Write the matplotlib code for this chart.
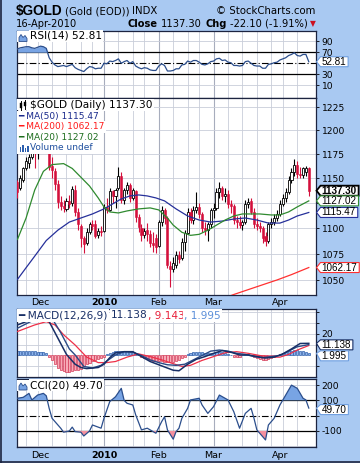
import numpy as np
import pandas as pd
import matplotlib
matplotlib.use("Agg")
import matplotlib.pyplot as plt
from matplotlib.patches import Polygon, Rectangle
from matplotlib.transforms import IdentityTransform
from matplotlib.ticker import NullLocator

# ---------------- data ----------------
holidays = ["2009-11-26", "2009-12-25", "2010-01-01", "2010-01-18", "2010-02-15", "2010-04-02"]
dates = pd.bdate_range("2009-11-18", "2010-04-16")
dates = dates[~dates.isin(pd.to_datetime(holidays))]

opens = [1146, 1140, 1148, 1160, 1166, 1172, 1185, 1176, 1182, 1200,
         1214, 1206, 1163, 1157, 1144, 1126, 1122, 1119, 1127, 1125,
         1138, 1116, 1102, 1090, 1086, 1096, 1104, 1104, 1093, 1097,
         1097, 1121, 1118, 1137, 1132, 1140, 1152, 1128, 1138, 1143,
         1130, 1137, 1111, 1100, 1093, 1098, 1094, 1086, 1090, 1083,
         1106, 1118, 1110, 1064, 1061, 1065, 1074, 1071, 1087, 1095,
         1116, 1108, 1118, 1121, 1114, 1100, 1098, 1104, 1118, 1120,
         1136, 1140, 1132, 1134, 1124, 1122, 1108, 1106, 1103, 1106,
         1124, 1127, 1116, 1104, 1102, 1100, 1092, 1088, 1104, 1106,
         1110, 1114, 1124, 1130, 1136, 1148, 1156, 1164, 1154, 1153,
         1156, 1160]
highs = [1148, 1153, 1162, 1172, 1175, 1195, 1192, 1185, 1203, 1218,
         1227, 1218, 1172, 1160, 1148, 1132, 1128, 1130, 1133, 1142,
         1143, 1120, 1104, 1092, 1100, 1106, 1108, 1108, 1100, 1102,
         1124, 1130, 1140, 1138, 1140, 1162, 1156, 1140, 1146, 1145,
         1140, 1138, 1114, 1104, 1100, 1105, 1098, 1096, 1094, 1108,
         1122, 1120, 1112, 1068, 1072, 1078, 1078, 1090, 1098, 1120,
         1120, 1122, 1136, 1125, 1116, 1106, 1106, 1120, 1125, 1140,
         1146, 1142, 1140, 1138, 1128, 1124, 1112, 1112, 1108, 1128,
         1130, 1130, 1120, 1110, 1106, 1102, 1096, 1106, 1110, 1114,
         1118, 1128, 1134, 1140, 1152, 1160, 1170, 1168, 1162, 1162,
         1163, 1162]
lows = [1130, 1138, 1146, 1158, 1160, 1170, 1160, 1170, 1180, 1196,
        1200, 1158, 1150, 1138, 1120, 1118, 1116, 1117, 1120, 1122,
        1112, 1098, 1082, 1076, 1084, 1094, 1098, 1090, 1090, 1092,
        1096, 1115, 1117, 1125, 1120, 1138, 1125, 1124, 1134, 1126,
        1128, 1106, 1096, 1088, 1090, 1088, 1082, 1077, 1076, 1082,
        1102, 1104, 1062, 1044, 1058, 1062, 1066, 1069, 1078, 1094,
        1105, 1104, 1115, 1110, 1096, 1093, 1088, 1100, 1110, 1118,
        1130, 1128, 1126, 1120, 1115, 1104, 1100, 1100, 1098, 1104,
        1120, 1114, 1100, 1098, 1096, 1086, 1083, 1086, 1100, 1103,
        1107, 1112, 1122, 1126, 1134, 1145, 1152, 1150, 1150, 1150,
        1152, 1132]
closes = [1136, 1150, 1160, 1168, 1172, 1190, 1178, 1181, 1200, 1214,
          1205, 1162, 1158, 1144, 1126, 1122, 1120, 1127, 1124, 1139,
          1116, 1104, 1090, 1085, 1096, 1104, 1102, 1092, 1097, 1096,
          1121, 1118, 1137, 1132, 1138, 1152, 1128, 1138, 1143, 1130,
          1138, 1111, 1101, 1093, 1097, 1094, 1086, 1084, 1082, 1106,
          1118, 1110, 1065, 1061, 1066, 1074, 1070, 1087, 1095, 1116,
          1108, 1118, 1121, 1114, 1100, 1098, 1104, 1118, 1120, 1136,
          1140, 1132, 1134, 1124, 1122, 1108, 1106, 1103, 1106, 1124,
          1126, 1116, 1104, 1102, 1100, 1090, 1088, 1104, 1106, 1110,
          1114, 1124, 1130, 1136, 1148, 1156, 1164, 1154, 1153, 1160,
          1160, 1137.3]

ma20_x = [0, 3, 6, 9, 12, 16, 19, 22, 25, 28, 30, 32, 35, 38, 42, 46, 49, 52, 54,
          57, 60, 63, 66, 69, 72, 75, 78, 81, 84, 88, 91, 94, 97, 101]
ma20_v = [1089, 1110, 1138, 1157, 1164, 1165, 1160, 1151, 1142, 1130, 1121, 1116, 1115,
          1117, 1119, 1120, 1118, 1110, 1103, 1096, 1093, 1094, 1098, 1103, 1108, 1112,
          1114, 1114, 1114, 1113, 1113, 1116, 1121, 1127.02]
ma50_x = [0, 3, 6, 10, 14, 18, 22, 26, 30, 33, 36, 39, 42, 45, 48, 51, 55, 59, 63, 67,
          71, 75, 79, 83, 87, 91, 94, 97, 101]
ma50_v = [1051, 1062, 1073, 1088, 1098, 1106, 1110, 1114, 1119, 1124, 1129, 1132, 1133,
          1132, 1130, 1127, 1119, 1112, 1108, 1106, 1107, 1109, 1110, 1108, 1105, 1105,
          1108, 1112, 1115.47]
ma200_x = [70, 75, 80, 85, 90, 95, 101]
ma200_v = [1032, 1037, 1041.5, 1046, 1050.5, 1055.5, 1062.17]

rsi_v = [76, 78, 79, 80, 80, 78, 77, 79, 81, 80,
         77, 60, 52, 47, 44, 45, 46, 44, 46, 48,
         42, 39, 37, 35, 40, 44, 43, 40, 41, 41,
         50, 49, 54, 53, 55, 58, 50, 53, 55, 50,
         53, 45, 42, 40, 42, 41, 38, 37, 37, 45,
         49, 46, 36, 36, 37, 40, 40, 47, 48, 54,
         52, 55, 55, 52, 48, 47, 49, 53, 54, 58,
         59, 55, 56, 52, 51, 46, 46, 45, 46, 53,
         54, 50, 46, 45, 45, 41, 41, 48, 49, 51,
         52, 56, 58, 60, 64, 66, 69, 64, 63, 66, 66, 52.81]

macd_x = [0, 3, 6, 9, 11, 14, 17, 20, 22, 24, 26, 28, 30, 32, 34, 37, 40, 43, 46, 49,
          51, 54, 56, 59, 62, 65, 68, 71, 74, 77, 80, 83, 86, 89, 92, 95, 98, 101]
macd_v = [28, 31, 35, 38, 31, 16, 1, -8, -11, -12, -11.5, -11, -8, -2, 2.5, 3.5, 3.5, -1,
          -5.5, -8.5, -10.5, -13.5, -14, -8, -3.5, -1, 2, 4.5, 3, 0.5, 0.5, -1, -2.3,
          -1.5, 1.5, 6, 11, 11.138]
macd2_x = [0, 3, 6, 9, 12, 15, 18, 20, 23, 26, 29, 31, 34, 37, 40, 43, 46, 49, 52, 55,
           58, 61, 64, 67, 70, 73, 76, 79, 82, 85, 88, 91, 94, 97, 101]
macd2_v = [25, 29, 33, 36, 34, 21, 6, 0.5, -10, -11.5, -9, -5, 0.5, 3.5, 3, 0, -4, -6.5,
           -8.5, -9, -8, -4, 0, 4, 5, 4, 2, 1, -1, -2, -1, 0, 4, 8, 10]
signal_x = [0, 3, 6, 10, 13, 16, 20, 24, 28, 31, 34, 38, 42, 46, 50, 54, 57, 60, 64, 68,
            72, 76, 80, 84, 88, 91, 94, 97, 101]
signal_v = [22, 25, 28, 31, 28, 19, 9.6, -1.5, -6.5, -6.5, -5.5, -1.5, 1.5, -1, -4, -7.5,
            -10, -9, -4.5, -1, 2.5, 3.5, 2, 0, -1.5, -1.5, 1, 5, 9.143]
hist_v = [4, 4, 4, 4, 4, 4, 4, 3.5, 3, 3, 2,
          -1, -4, -8, -11, -13, -14, -15, -15, -14, -13,
          -13, -12, -10, -8, -7, -5, -4, -3, -2, -1,
          1, 2, 3, 4, 4, 4, 4, 4, 3, 3,
          2, 1, -1, -2, -3, -4, -5, -5, -5, -5,
          -6, -6, -6, -6, -5, -4, -2, -1, 1, 2,
          3, 3, 3, 3, 2, 2, 2, 2, 3, 3,
          3, 2, 1, 0, -1, -1, -1, 0, 1, 1,
          0, -1, -2, -3, -4, -4, -3, -2, -1, 0,
          1, 2, 3, 4, 4, 5, 5, 4, 4, 3, 1.995]

cci_x = [0, 2, 4, 5, 7, 9, 10, 11, 12, 15, 16, 18, 19, 20, 22, 23, 25, 26, 29, 30, 32,
         34, 36, 37, 38, 40, 41, 43, 45, 47, 48, 50, 51, 52, 54, 55, 56, 57, 59, 60,
         63, 64, 66, 68, 70, 73, 75, 77, 79, 81, 82, 83, 86, 87, 89, 91, 93, 95, 97,
         99, 100, 101]
cci_v = [114, 120, 146, 103, 135, 146, 130, 48, -17, -82, -108, -100, -75, -104, -108,
         -133, -100, -61, -82, -17, 92, 124, 179, 100, 81, 70, 5, -93, -82, -104, -115,
         -39, -7, -93, -154, -104, -82, -17, 48, 103, 114, 70, 15, 59, 135, 103, 26, -82,
         15, 48, -17, -93, -159, -61, -17, 70, 135, 200, 179, 114, 103, 49.7]

month_labels = ["Dec", "2010", "Feb", "Mar", "Apr"]

# ---------------- styling ----------------
W, H = 360, 463
BG = "#a9c9f2"
GRID = "#c9cdd9"
MGRID = "#a7adbd"
RSI_LINE = "#2b4e8c"
FILL_UP = "#78a4e4"
FILL_DN = "#f4909e"
LEG = 7.6     # main legend lines
SUB = 6.5     # MA legend lines
TAG = 7.1

fig = plt.figure(figsize=(W / 100, H / 100), dpi=100, facecolor=BG)
R = fig.canvas.get_renderer()


def box(top, bottom):
    return [17 / W, 1 - bottom / H, 299 / W, (bottom - top) / H]


x = np.arange(len(closes))
XL = (-0.15, 103.5)
week_idx = [i for i in range(1, len(dates)) if dates[i].weekday() < dates[i - 1].weekday()]
month_idx = [i for i in range(1, len(dates)) if dates[i].month != dates[i - 1].month]


def style(ax, ylim, ticks, labels, hgrid, log=False):
    ax.set_facecolor("white")
    if log:
        ax.set_yscale("log")
    ax.set_xlim(XL)
    ax.set_ylim(ylim)
    for s in ax.spines.values():
        s.set_color("#1c2440")
        s.set_linewidth(0.9)
    ax.yaxis.tick_right()
    ax.set_yticks(ticks, labels=labels)
    ax.yaxis.set_minor_locator(NullLocator())
    ax.tick_params(axis="y", labelsize=6.6, length=2.5, pad=1.5, width=0.6)
    ax.set_xticks(month_idx, labels=month_labels)
    ax.tick_params(axis="x", length=0, labelbottom=False)
    for i in week_idx:
        mj = i in month_idx
        ax.axvline(i, color=MGRID if mj else GRID, lw=0.8 if mj else 0.6, zorder=0)
    for v in hgrid:
        ax.axhline(v, color=GRID, lw=0.6, zorder=0)


def rich(xp, yp, parts, size=LEG, box_on=True, zorder=5, family=None):
    for txt, col, wt, gap in parts:
        t = fig.text(xp / W, 1 - yp / H, txt, color=col, fontsize=size, fontweight=wt,
                     ha="left", va="center", zorder=zorder, family=family,
                     bbox=dict(fc="white", ec="none", pad=0.9) if box_on else None)
        xp += t.get_window_extent(R).width + gap
    return xp


def tag(ax, val, txt, ec, bold=False, dy=0.0, lw=0.8):
    yd = ax.transData.transform((0, val))[1]
    yt = yd + dy
    t = fig.text(321.5 / W, yt / H, txt, fontsize=TAG, fontweight="bold" if bold else "normal",
                 ha="left", va="center", zorder=7, family="Liberation Sans")
    w = t.get_window_extent(R).width
    x1 = min(321.5 + w + 2.0, 359.5)
    pts = [(316.5, yd), (320.5, yt + 5.0), (x1, yt + 5.0), (x1, yt - 5.0), (320.5, yt - 5.0)]
    fig.add_artist(Polygon(pts, closed=True, fc="white", ec=ec, lw=lw,
                           transform=IdentityTransform(), zorder=6))


def mountain(xp, yp, col):
    pts = [(xp, yp + 4), (xp, yp), (xp + 2, yp - 3), (xp + 4, yp), (xp + 6, yp - 2),
           (xp + 8, yp + 1), (xp + 8, yp + 4)]
    pts = [(a, H - b) for a, b in pts]
    fig.add_artist(Polygon(pts, closed=True, fc=FILL_UP, ec=col, lw=0.6,
                           transform=IdentityTransform(), zorder=6))


# ---------------- RSI ----------------
ax_r = fig.add_axes(box(30.7, 97.5))
style(ax_r, (-12, 109), [90, 70, 30, 10], ["90", "70", "30", "10"], [10, 90])
ax_r.axhline(70, color="black", lw=0.9, zorder=1)
ax_r.axhline(30, color="black", lw=0.9, zorder=1)
ax_r.axhline(50, color="black", lw=0.8, ls=(0, (6, 2, 1, 2)), zorder=1)
rsi = np.array(rsi_v)
ax_r.fill_between(x, rsi, 70, where=rsi > 70, interpolate=True, color=FILL_UP, lw=0, zorder=2)
ax_r.plot(x, rsi, color=RSI_LINE, lw=0.9, zorder=3)

# ---------------- price ----------------
ax_p = fig.add_axes(box(98, 294.5))
pt = [1050, 1075, 1100, 1125, 1150, 1175, 1200, 1225]
style(ax_p, (1037, 1235), pt, ["1050", "1075", "1100", "", "1150", "1175", "1200", "1225"],
      pt, log=True)
o, h, l, c = map(np.array, (opens, highs, lows, closes))
up = c >= o
RED = "#d4103c"
ax_p.vlines(x[up], l[up], h[up], color="black", lw=0.8, zorder=3)
ax_p.vlines(x[~up], l[~up], h[~up], color=RED, lw=0.8, zorder=3)
ax_p.bar(x[up], np.maximum(c - o, 0.6)[up], bottom=o[up], width=0.72, fc="white",
         ec="black", lw=0.6, zorder=4)
ax_p.bar(x[~up], (o - c)[~up], bottom=c[~up], width=0.72, fc=RED, ec=RED, lw=0.4, zorder=4)
ax_p.plot(ma50_x, ma50_v, color="#26309a", lw=0.9, zorder=5)
ax_p.plot(ma20_x, ma20_v, color="#2f8a2f", lw=0.9, zorder=5)
ax_p.plot(ma200_x, ma200_v, color="#ff3030", lw=0.9, zorder=5)
ax_p.tick_params(axis="x", labelbottom=True, labelsize=6.8, pad=2.5)
for lb in ax_p.get_xticklabels():
    if lb.get_text() == "2010":
        lb.set_fontweight("bold")

# ---------------- MACD ----------------
ax_m = fig.add_axes(box(309, 377))
style(ax_m, (-19.7, 42.6), [-10, 0, 10, 20, 30, 40], ["", "", "", "20", "", ""],
      [-10, 10, 20, 30, 40])
hv = np.array(hist_v)
pos = hv >= 0
ax_m.bar(x[pos], hv[pos], width=0.75, fc="#8db3ea", ec="#2d5eab", lw=0.5, zorder=2)
ax_m.bar(x[~pos], hv[~pos], width=0.75, fc="#f7a9b6", ec="#d23a58", lw=0.5, zorder=2)
ax_m.plot(signal_x, signal_v, color="#ee3048", lw=0.9, zorder=3)
ax_m.plot(macd2_x, macd2_v, color="#2a4a86", lw=1.0, zorder=4)
ax_m.plot(macd_x, macd_v, color="#182f66", lw=1.1, zorder=4)

# ---------------- CCI ----------------
ax_c = fig.add_axes(box(379, 447.3))
style(ax_c, (-207, 240), [200, 100, 0, -100], ["200", "100", "", "-100"], [200, -200])
ax_c.axhline(100, color="black", lw=0.9, zorder=1)
ax_c.axhline(-100, color="black", lw=0.9, zorder=1)
ax_c.axhline(0, color="black", lw=0.8, ls=(0, (6, 2, 1, 2)), zorder=1)
cx, cv = np.array(cci_x), np.array(cci_v)
ax_c.fill_between(cx, cv, 100, where=cv > 100, interpolate=True, color=FILL_UP, lw=0, zorder=2)
ax_c.fill_between(cx, cv, -100, where=cv < -100, interpolate=True, color=FILL_DN, lw=0, zorder=2)
ax_c.plot(cx, cv, color=RSI_LINE, lw=0.9, zorder=3)
ax_c.tick_params(axis="x", labelbottom=True, labelsize=6.8, pad=2.5)
for lb in ax_c.get_xticklabels():
    if lb.get_text() == "2010":
        lb.set_fontweight("bold")

# ---------------- header ----------------
fig.text(16 / W, 1 - 10.5 / H, "$GOLD", fontsize=9.8, fontweight="bold", va="center",
         family="Liberation Sans")
fig.text(65 / W, 1 - 11 / H, "(Gold (EOD))", fontsize=7.3, va="center")
fig.text(132 / W, 1 - 11 / H, "INDX", fontsize=7.3, va="center")
fig.text(315 / W, 1 - 11 / H, "\u00a9 StockCharts.com", fontsize=7.3, ha="right", va="center")
fig.text(16 / W, 1 - 24 / H, "16-Apr-2010", fontsize=7.1, va="center")
xe = rich(128, 24, [("Close", "black", "bold", 3), ("1137.30", "black", "normal", 4),
                    ("Chg", "black", "bold", 3), ("-22.10 (-1.91%)", "black", "normal", 2)],
          size=7.1, box_on=False)
fig.text(xe / W, 1 - 24 / H, "\u25bc", fontsize=5.5, color="#cc1020", va="center")

# ---------------- panel legends ----------------
fig.add_artist(Rectangle((17, H - 42), 12, 11, fc="white", ec="none",
                         transform=IdentityTransform(), zorder=4))
mountain(19, 37.5, RSI_LINE)
rich(30, 36, [("RSI(14) 52.81", "black", "normal", 0)])

fig.add_artist(Rectangle((17, H - 110), 13, 11, fc="white", ec="none",
                         transform=IdentityTransform(), zorder=4))
for cx0, y0, y1, b0, b1 in [(21, 101, 110, 103, 108), (25, 100, 109, 101.5, 106)]:
    fig.add_artist(plt.Line2D([cx0, cx0], [H - y1, H - y0], color="black", lw=0.7,
                              transform=IdentityTransform(), zorder=6))
    fig.add_artist(Rectangle((cx0 - 1.2, H - b1), 2.4, b1 - b0, fc="black", ec="black", lw=0.3,
                             transform=IdentityTransform(), zorder=6))
rich(30, 105, [("$GOLD (Daily) 1137.30", "black", "normal", 0)])
rich(18, 116.5, [("\u2501 MA(50) 1115.47", "#1a2a8c", "normal", 0)], size=SUB)
rich(18, 127, [("\u2501 MA(200) 1062.17", "#ff1a1a", "normal", 0)], size=SUB)
rich(18, 137.5, [("\u2501 MA(20) 1127.02", "#1e6e1e", "normal", 0)], size=SUB)
fig.add_artist(Rectangle((17, H - 153.5), 12, 11, fc="white", ec="none",
                         transform=IdentityTransform(), zorder=4))
for bx, bh in [(19.5, 5), (22, 7), (24.5, 4), (27, 6)]:
    fig.add_artist(Rectangle((bx, H - 151.5), 1.8, bh, fc="#2c5fae", ec="none",
                             transform=IdentityTransform(), zorder=6))
rich(29.5, 148, [("Volume undef", "#1f4f9f", "normal", 0)], size=SUB)

rich(18, 315.5, [("\u2501 MACD(12,26,9)", "#182f66", "normal", 3.5),
                 ("11.138", "#182f66", "normal", 0),
                 (", 9.143", "#e8203a", "normal", 0),
                 (", 1.995", "#5b8fd9", "normal", 0)])

fig.add_artist(Rectangle((17, H - 390.5), 12, 11, fc="white", ec="none",
                         transform=IdentityTransform(), zorder=4))
mountain(19, 386, RSI_LINE)
rich(30, 385, [("CCI(20) 49.70", "black", "normal", 0)])

# ---------------- value tags ----------------
tag(ax_r, 52.81, "52.81", "#6f9fe0")
tag(ax_p, 1137.30, "1137.30", "black", bold=True, lw=1.3)
tag(ax_p, 1127.02, "1127.02", "#2f8a2f")
tag(ax_p, 1115.47, "1115.47", "#26309a")
tag(ax_p, 1062.17, "1062.17", "#ff3030")
tag(ax_m, 11.138, "11.138", "#182f66", dy=-1.5)
tag(ax_m, 1.995, "1.995", "#6f9fe0", dy=-2.5)
tag(ax_c, 49.70, "49.70", "#6f9fe0", dy=-1.5)

# outer frame (left and bottom edges)
fig.add_artist(plt.Line2D([0.5, 0.5], [0, H], color="#1c2440", lw=1.2,
                          transform=IdentityTransform()))
fig.add_artist(plt.Line2D([0, W], [0.6, 0.6], color="#1c2440", lw=1.2,
                          transform=IdentityTransform()))

fig.savefig("out.png", dpi=100, facecolor=BG)
